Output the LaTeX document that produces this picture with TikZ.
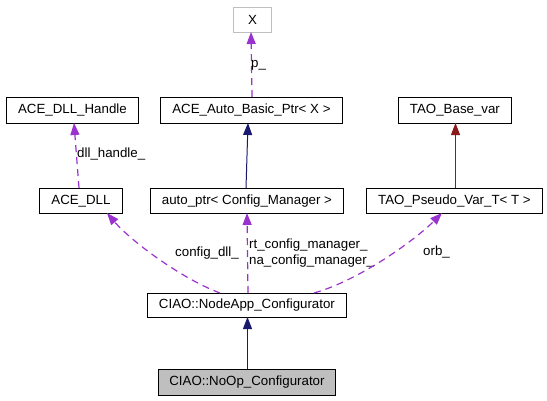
\documentclass[tikz,border=0pt]{standalone}
\usepackage{fontspec}
\setmainfont{Liberation Sans}
\usetikzlibrary{arrows.meta}
\definecolor{edgepurple}{HTML}{9A32CD}
\definecolor{edgenavy}{HTML}{191970}
\definecolor{edgered}{HTML}{8B1A1A}
\definecolor{boxgray}{HTML}{BFBFBF}
\tikzset{
  cls/.style={draw=black, line width=0.9pt, inner sep=0pt, anchor=north west, font=\fontsize{13.3}{16}\selectfont, align=center},
  lbl/.style={font=\fontsize{13.3}{16}\selectfont, inner sep=0pt, align=left},
  usearrow/.style={color=edgepurple, dashed, dash pattern=on 7pt off 5pt, line width=1.2pt, -{Triangle[length=12pt,width=9pt]}},
  inharrow/.style={line width=1pt, -{Triangle[length=12pt,width=9pt]}},
}
\begin{document}
\begin{tikzpicture}[x=1pt,y=-1pt]
\useasboundingbox (0,0) rectangle (547,400);
% nodes
\node[cls, draw=boxgray, minimum width=38pt, minimum height=25pt] (X) at (233,7) {X};
\node[cls, minimum width=132pt, minimum height=26pt] (handle) at (6,97) {ACE\_DLL\_Handle};
\node[cls, minimum width=182pt, minimum height=26pt] (abp) at (160,97) {ACE\_Auto\_Basic\_Ptr< X >};
\node[cls, minimum width=113pt, minimum height=26pt] (basevar) at (398,97) {TAO\_Base\_var};
\node[cls, minimum width=83pt, minimum height=25pt] (dll) at (39,188) {ACE\_DLL};
\node[cls, minimum width=193pt, minimum height=25pt] (autoptr) at (150,188) {auto\_ptr< Config\_Manager >};
\node[cls, minimum width=176pt, minimum height=25pt] (pseudo) at (366,188) {TAO\_Pseudo\_Var\_T< T >};
\node[cls, minimum width=199pt, minimum height=24pt] (nodeapp) at (147,293) {CIAO::NodeApp\_Configurator};
\node[cls, fill=boxgray, minimum width=177pt, minimum height=26pt] (noop) at (158,369) {CIAO::NoOp\_Configurator};
% end coordinates
\coordinate (abpTop) at (252,97);
\coordinate (xBot) at (251,32);
\coordinate (dllTop) at (79,188);
\coordinate (handleBot) at (74,123);
\coordinate (autoTop) at (246,188);
\coordinate (abpBot) at (248,123);
\coordinate (pseudoTop) at (455.5,188);
\coordinate (baseBot) at (455.5,123);
\coordinate (naL) at (220,293);
\coordinate (dllBot) at (107,213);
\coordinate (naM) at (248,293);
\coordinate (autoBot) at (247,213);
\coordinate (naR) at (314,293);
\coordinate (pseudoBot) at (442,213);
\coordinate (noopTop) at (247.5,369);
\coordinate (naBot) at (247.5,317);
% edges
\draw[usearrow] (abpTop) -- (xBot);
\node[lbl, anchor=west] (lp) at (251,65) {p\_};
\draw[usearrow] (dllTop) -- (handleBot);
\node[lbl, anchor=west] (ldh) at (77,154) {dll\_handle\_};
\draw[inharrow, edgenavy] (autoTop) -- (abpBot);
\draw[inharrow, edgered] (pseudoTop) -- (baseBot);
\draw[usearrow] (naL) .. controls (180,278) and (130,240) .. (dllBot);
\node[lbl, anchor=east] (lcd) at (239,253) {config\_dll\_};
\draw[usearrow] (naM) -- (autoBot);
\node[lbl, anchor=west] (lrt) at (249,253) {rt\_config\_manager\_\\na\_config\_manager\_};
\draw[usearrow] (naR) .. controls (360,280) and (415,240) .. (pseudoBot);
\node[lbl, anchor=west] (lorb) at (423,252) {orb\_};
\draw[inharrow, edgenavy] (noopTop) -- (naBot);
\end{tikzpicture}
\end{document}
